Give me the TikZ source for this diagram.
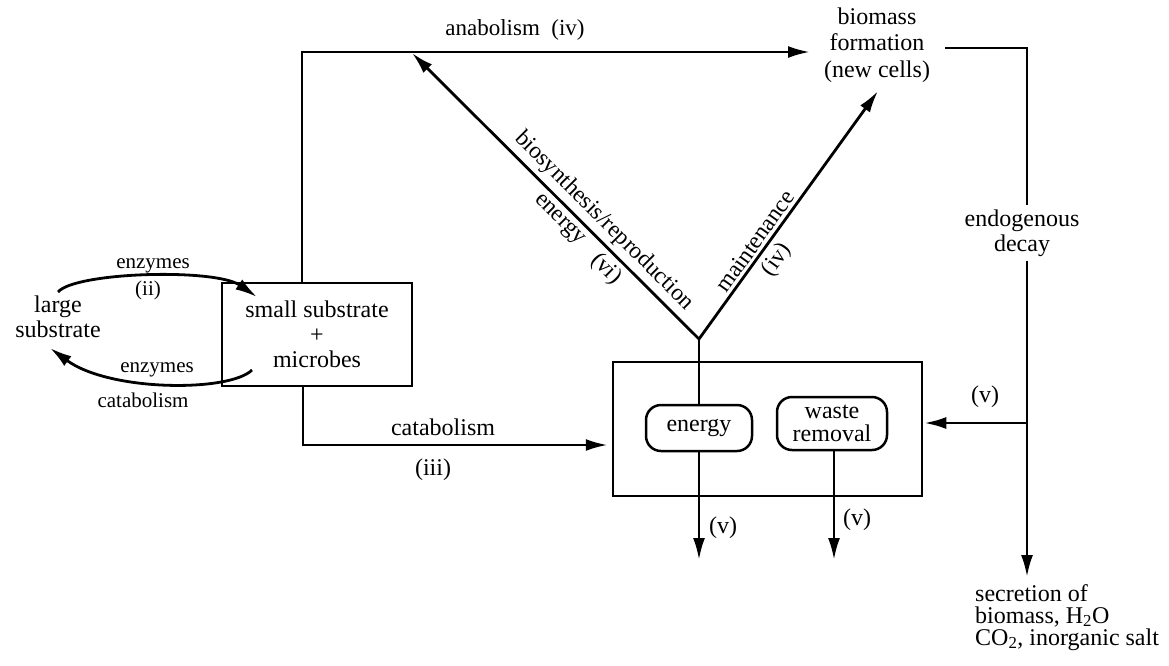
\documentclass[tikz,border=0pt]{standalone}
\usepackage{fontspec}
\setmainfont{Liberation Serif}
\usetikzlibrary{arrows.meta}
\begin{document}
\begin{tikzpicture}[x=1pt,y=-1pt,
  line/.style={line width=2.8pt},
  arr/.style={line width=2.8pt,-{Latex[length=22pt,width=12pt]}},
  box/.style={draw,line width=2.5pt,inner sep=0pt},
  big/.style={font=\fontsize{24}{25}\selectfont,align=center,inner sep=0pt},
  small/.style={font=\fontsize{21}{22}\selectfont,align=center,inner sep=0pt},
  rlab/.style={font=\fontsize{23.5}{25}\selectfont,inner sep=0pt}
]
\useasboundingbox (0,0) rectangle (1169,665);

% nodes
\node[box,big,minimum width=190pt,minimum height=103pt] (ss) at (317,334.5) {small substrate\\+\\microbes};
\node[big] (ls) at (58,317) {large\\substrate};
\node[box,minimum width=309pt,minimum height=134pt] (bb) at (767.5,429) {};
\node[box,big,rounded corners=15pt,minimum width=106pt,minimum height=46pt] (en) at (699,428) {energy};
\node[box,rounded corners=15pt,minimum width=110pt,minimum height=53pt,font=\fontsize{24}{23}\selectfont,align=center] (wr) at (832,423.5) {waste\\removal};
\node[big,font=\fontsize{24}{26.5}\selectfont] (bm) at (877,45) {biomass\\formation\\(new cells)};
\node[big,fill=white,inner ysep=4pt] (ed) at (1022,233) {endogenous\\decay};
\node[big,font=\fontsize{24}{22}\selectfont,align=left,anchor=north west] (sec) at (975,584) {secretion of\\biomass, H\textsubscript{2}O\\CO\textsubscript{2}, inorganic salt};

% coordinates
\coordinate (v) at (699,339);
\coordinate (tl) at (302,52);
\coordinate (bmw) at (810,52);
\coordinate (bsTip) at (412,53);
\coordinate (mTip) at (878,91);
\coordinate (enOut) at (699,560);
\coordinate (wrOut) at (834,560);
\coordinate (bl) at (303,445);
\coordinate (rc) at (1027,48);
\coordinate (bmE) at (945,48);
\coordinate (rOut) at (1027,577);
\coordinate (rj) at (1027,423);
\coordinate (c1s) at (58,292);
\coordinate (c1e) at (257,297);
\coordinate (c2s) at (252,370);
\coordinate (c2e) at (50,348);

% connectors
\draw[arr] (ss.north -| tl) -- (tl) -- (bmw);
\draw[arr] (v) -- (bsTip);
\draw[arr] (v) -- (mTip);
\draw[line] (v) -- (en.north);
\draw[arr] (en.south) -- (enOut);
\draw[arr] (wr.south -| wrOut) -- (wrOut);
\draw[arr,shorten >=4pt] (ss.south -| bl) -- (bl) -- (bb.west |- bl);
\draw[line] (bmE) -- (rc) -- (ed.north -| rc);
\draw[arr] (ed.south -| rc) -- (rOut);
\draw[arr,shorten >=1pt] (rj) -- (bb.east |- rj);
\draw[arr] (c1s) .. controls (75,272) and (215,268) .. (c1e);
\draw[arr] (c2s) .. controls (230,392) and (110,392) .. (c2e);

% labels
\node[small] (enz1) at (153,266) {enzymes};
\node[small] (ii) at (148,290) {(ii)};
\node[small] (enz2) at (157,370) {enzymes};
\node[small] (cat2) at (143,400) {catabolism};
\node[big] (cat) at (443,427) {catabolism};
\node[big] (iii) at (433,470) {(iii)};
\node[big,font=\fontsize{23}{25}\selectfont] (ana) at (515,30) {anabolism\ \ (iv)};
\node[rlab,rotate=-45] (bsr) at (604,221) {biosynthesis/reproduction};
\node[rlab,rotate=-45] (eng) at (559,220) {energy};
\node[rlab,rotate=-45] (vi) at (606,269) {(vi)};
\node[rlab,rotate=54.3] (mnt) at (755,241) {maintenance};
\node[rlab,rotate=54.3] (iv2) at (777,260) {(iv)};
\node[big] (v1) at (723,528) {(v)};
\node[big] (v2) at (857,520) {(v)};
\node[big] (v3) at (985,397) {(v)};
\end{tikzpicture}
\end{document}
